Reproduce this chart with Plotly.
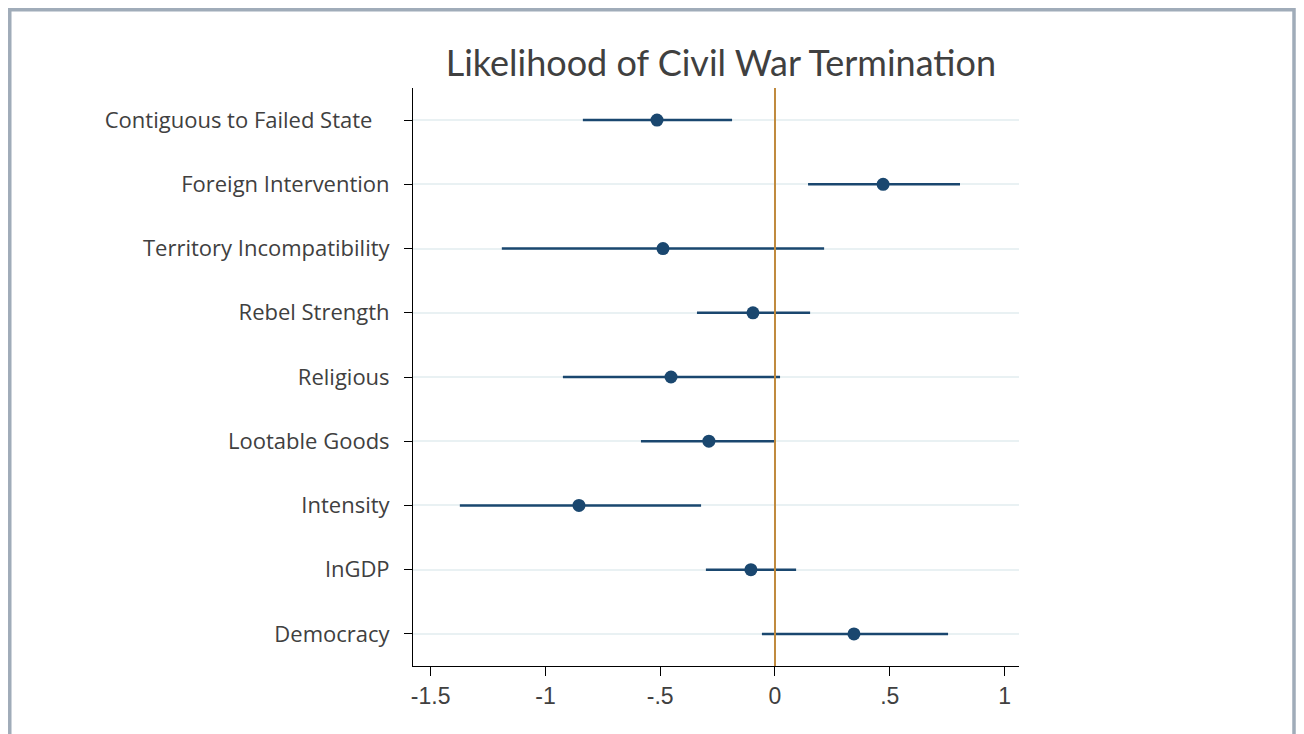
import plotly.graph_objects as go

# coefficients and 95% intervals
variables = ["Contiguous to Failed State", "Foreign Intervention", "Territory Incompatibility",
             "Rebel Strength", "Religious", "Lootable Goods", "Intensity", "lnGDP", "Democracy"]
labels = ["Contiguous to Failed State\u00a0\u00a0\u00a0", "Foreign Intervention", "Territory Incompatibility",
          "Rebel Strength", "Religious", "Lootable Goods", "Intensity", "lnGDP", "Democracy"]
coef = [-0.514, 0.471, -0.488, -0.096, -0.453, -0.288, -0.854, -0.105, 0.344]
ci_low = [-0.837, 0.144, -1.190, -0.340, -0.924, -0.584, -1.373, -0.301, -0.057]
ci_high = [-0.187, 0.806, 0.214, 0.153, 0.022, 0.004, -0.322, 0.092, 0.754]
x_ticks = [-1.5, -1, -0.5, 0, 0.5, 1]
x_ticktext = ["-1.5", "-1", "-.5", "0", ".5", "1"]

navy = "#1a476f"
text_col = "#404040"

fig = go.Figure()
fig.add_trace(go.Scatter(
    x=coef, y=variables, mode="markers",
    marker=dict(color=navy, size=13),
    error_x=dict(type="data", symmetric=False,
                 array=[h - c for h, c in zip(ci_high, coef)],
                 arrayminus=[c - l for c, l in zip(coef, ci_low)],
                 color=navy, thickness=2.5, width=0),
    showlegend=False, hoverinfo="skip",
))

# zero reference line
fig.add_shape(type="line", xref="x", yref="paper", x0=0, x1=0, y0=0, y1=1,
              line=dict(color="#c08a3e", width=2), layer="above")
# outer frame like the graph region border
fig.add_shape(type="rect", xref="paper", yref="paper",
              x0=-0.6654, x1=1.4538, y0=-0.2, y1=1.1354,
              line=dict(color="#a0acb9", width=3.5), fillcolor="rgba(0,0,0,0)")

fig.update_layout(
    width=1296, height=726,
    margin=dict(l=405, r=285, t=80, b=68),
    paper_bgcolor="white", plot_bgcolor="white",
    title=dict(text="Likelihood of Civil War Termination", x=0.508, xref="paper",
               y=0.924, yanchor="middle",
               font=dict(family="Lato", size=36, color=text_col)),
    xaxis=dict(range=[-1.577, 1.063], tickvals=x_ticks, ticktext=x_ticktext,
               showgrid=False, zeroline=False, showline=True, linecolor="black", linewidth=1,
               ticks="outside", ticklen=9, tickcolor="black",
               tickfont=dict(family="Liberation Sans", size=23, color=text_col)),
    yaxis=dict(categoryorder="array", categoryarray=variables, range=[8.5, -0.5],
               tickvals=variables, ticktext=labels,
               showgrid=True, gridcolor="#e9f1f3", gridwidth=2,
               zeroline=False, showline=True, linecolor="black", linewidth=1,
               ticks="outside", ticklen=8, tickcolor="black",
               ticklabelstandoff=10,
               tickfont=dict(family="Open Sans", size=22, color=text_col)),
)

fig.write_html("out.html")
